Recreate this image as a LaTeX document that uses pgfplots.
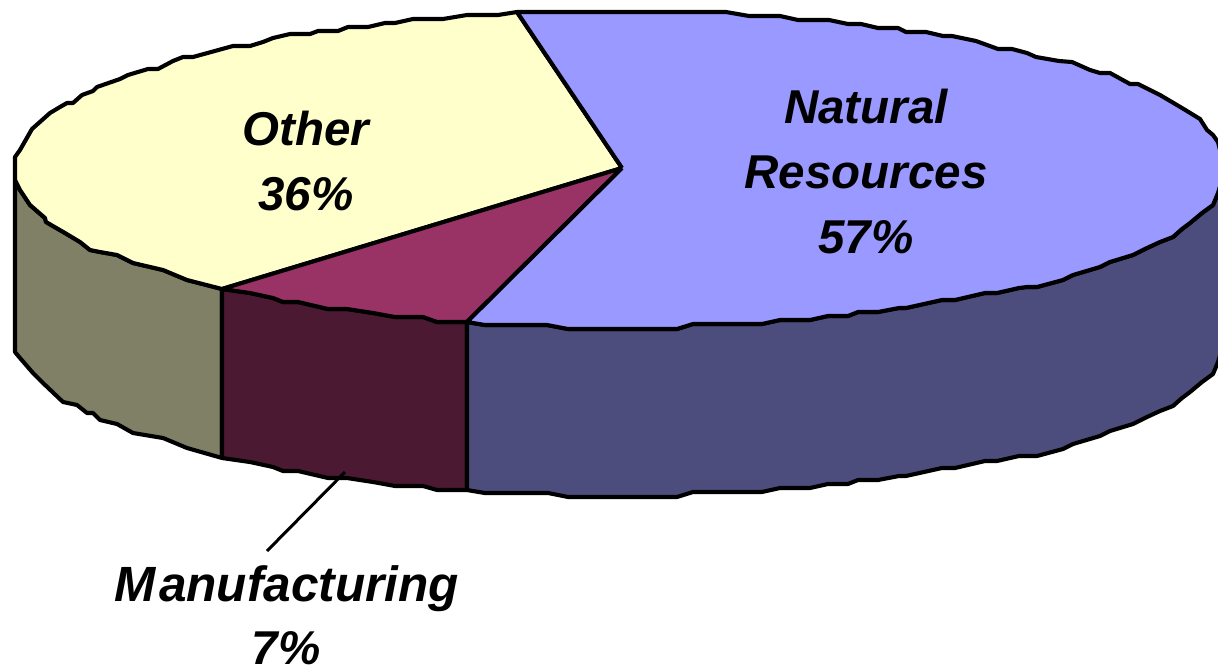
\documentclass[border=0pt]{standalone}
\usepackage{pgfplots}
\pgfplotsset{compat=1.18}
\usepackage{fontspec}
\setmainfont{Liberation Sans}
\definecolor{natT}{HTML}{9999FF}
\definecolor{natS}{HTML}{4D4D7D}
\definecolor{othT}{HTML}{FFFFCC}
\definecolor{othS}{HTML}{808066}
\definecolor{manT}{HTML}{993366}
\definecolor{manS}{HTML}{4C1933}
\begin{document}
\begin{tikzpicture}
\begin{axis}[name=ax,hide axis,scale only axis,width=1218pt,height=667pt,
  xmin=0,xmax=1218,ymin=0,ymax=667,y dir=reverse,clip mode=individual,
  every axis plot/.append style={draw=black,line width=4.1pt,line join=round,mark=none}]
% sides
\addplot[fill=othS] coordinates {(15,180)(20,190)(30,205)(45,218)(46,222)(65,233)(80,242)(90,250)(100,252)(117,255)(133,263)(163,270)(187,280)(222,289)(222,458)(187,448)(163,438)(133,433)(117,424)(100,420)(93,413)(87,413)(77,405)(63,402)(43,383)(33,373)(20,358)(15,352)(15,180)};
\addplot[fill=manS] coordinates {(222,289)(250,293)(273,298)(283,302)(298,302)(328,309)(347,309)(373,313)(395,317)(423,317)(437,322)(467,322)(467,490)(437,490)(423,486)(395,486)(373,482)(347,478)(328,478)(298,471)(283,471)(273,467)(250,462)(222,458)(222,289)};
\addplot[fill=natS] coordinates {(467,322)(485,325)(547,325)(568,329)(677,329)(693,324)(762,324)(780,320)(810,320)(828,316)(848,316)(858,312)(878,312)(899,308)(906,308)(942,300)(955,300)(985,293)(997,293)(1019,288)(1027,287)(1037,287)(1063,280)(1073,275)(1100,267)(1110,262)(1133,255)(1147,248)(1160,242)(1173,237)(1182,229)(1190,223)(1202,213)(1213,205)(1218,193)(1225,170)(1225,339)(1218,362)(1213,374)(1202,382)(1190,392)(1182,398)(1173,406)(1160,411)(1147,417)(1133,424)(1110,431)(1100,436)(1073,444)(1063,449)(1037,456)(1027,456)(1019,456)(997,461)(985,461)(955,468)(942,468)(906,476)(899,476)(878,480)(858,480)(848,484)(828,484)(810,488)(780,488)(762,492)(693,492)(677,497)(568,497)(548,493)(485,493)(467,490)(467,322)};
% tops
\addplot[fill=othT] coordinates {(622,168)(517,12)(498,15)(467,15)(443,19)(413,19)(395,23)(385,23)(368,27)(348,27)(338,31)(318,31)(310,34)(290,34)(273,38)(263,42)(250,46)(233,46)(193,57)(183,57)(173,61)(158,69)(148,69)(128,75)(120,79)(97,87)(93,91)(82,95)(73,103)(67,103)(60,107)(50,113)(32,129)(20,150)(15,157)(15,180)(20,190)(30,205)(45,218)(46,222)(65,233)(80,242)(90,250)(100,252)(117,255)(133,263)(163,270)(187,280)(222,289)(622,168)};
\addplot[fill=manT] coordinates {(622,168)(222,289)(250,293)(273,298)(283,302)(298,302)(328,309)(347,309)(373,313)(395,317)(423,317)(437,322)(467,322)(622,168)};
\addplot[fill=natT] coordinates {(622,168)(517,12)(726,12)(749,16)(780,16)(798,20)(829,20)(848,24)(861,24)(878,28)(898,28)(906,32)(926,32)(943,36)(952,36)(976,41)(998,49)(1012,49)(1027,53)(1036,57)(1059,61)(1072,62)(1090,70)(1100,73)(1110,73)(1130,84)(1138,84)(1160,95)(1182,108)(1200,119)(1207,130)(1213,135)(1218,142)(1225,170)(1218,193)(1213,205)(1202,213)(1190,223)(1182,229)(1173,237)(1160,242)(1147,248)(1133,255)(1110,262)(1100,267)(1073,275)(1063,280)(1037,287)(1027,287)(1019,288)(997,293)(985,293)(955,300)(942,300)(906,308)(899,308)(878,312)(858,312)(848,316)(828,316)(810,320)(780,320)(762,324)(693,324)(677,329)(568,329)(547,325)(485,325)(467,322)(622,168)};
% leader
\addplot[line width=3pt] coordinates {(267,551)(345,472)};
% labels
\begin{scope}[every node/.style={font=\fontsize{47.5}{57}\selectfont\bfseries\itshape,anchor=base,inner sep=0pt,text=black}]
\node at (axis cs:866,123) {Natural};
\node at (axis cs:866,188) {Resources};
\node at (axis cs:866,253) {57\%};
\node at (axis cs:306,145) {Other};
\node at (axis cs:306,210) {36\%};
\node at (axis cs:286.5,601) {\fontsize{49.5}{57}\selectfont M\kern4pt anufacturing};
\node at (axis cs:286,664) {7\%};
\end{scope}
\end{axis}
\pgfresetboundingbox
\path (ax.south west) rectangle (ax.north east);
\end{tikzpicture}
\end{document}
